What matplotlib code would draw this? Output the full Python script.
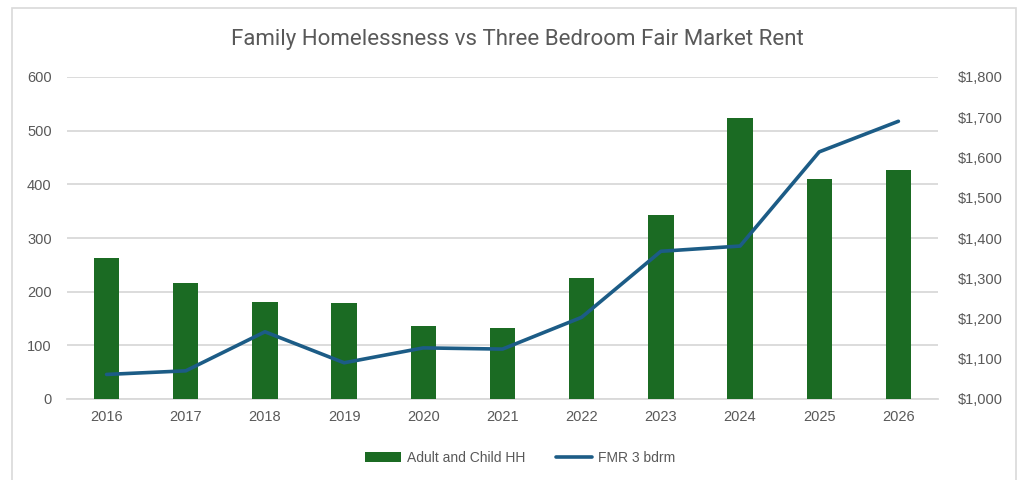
import numpy as np
import matplotlib
matplotlib.use("Agg")
import matplotlib.pyplot as plt
from matplotlib import font_manager
from matplotlib.patches import Rectangle
from matplotlib.ticker import FuncFormatter

# Data
years = ["2016", "2017", "2018", "2019", "2020", "2021",
         "2022", "2023", "2024", "2025", "2026"]
adult_child_hh = [262, 217, 181, 179, 136, 133, 226, 342, 524, 410, 427]
fmr_3bdrm = [1061, 1070, 1167, 1090, 1127, 1124, 1203, 1367, 1380, 1614, 1690]

bar_color = "#1B6B23"
line_color = "#1C5C86"
text_color = "#595959"
grid_color = "#D9D9D9"

installed = {f.name for f in font_manager.fontManager.ttflist}
title_font = "Liberation Sans Narrow" if "Liberation Sans Narrow" in installed else "Roboto"
plt.rcParams["font.family"] = ["Liberation Sans", "DejaVu Sans"]

fig = plt.figure(figsize=(10.24, 4.8), dpi=100)
ax = fig.add_axes([67 / 1024, 1 - 399 / 480, (938 - 67) / 1024, (399 - 77) / 480])
ax2 = ax.twinx()

x = np.arange(len(years))
ax.bar(x, adult_child_hh, width=0.32, color=bar_color, label="Adult and Child HH", zorder=3)
ax2.plot(x, fmr_3bdrm, color=line_color, lw=2.6, solid_capstyle="round",
         solid_joinstyle="round", label="FMR 3 bdrm", zorder=4)

ax.set_xlim(-0.5, len(years) - 0.5)
ax.set_ylim(0, 600)
ax.set_yticks(range(0, 601, 100))
ax2.set_ylim(1000, 1800)
ax2.set_yticks(range(1000, 1801, 100))
ax2.yaxis.set_major_formatter(FuncFormatter(lambda v, p: f"${v:,.0f}"))

ax.set_xticks(x)
ax.set_xticklabels(years)
ax.yaxis.grid(True, color=grid_color, lw=1.3, zorder=0)
ax.set_axisbelow(True)

for a in (ax, ax2):
    for s in a.spines.values():
        s.set_visible(False)
    a.tick_params(length=0, labelsize=10.5, colors=text_color)
ax.spines["bottom"].set_visible(True)
ax.spines["bottom"].set_color(grid_color)
ax.spines["bottom"].set_linewidth(1.3)
ax.tick_params(axis="x", pad=8)
ax.tick_params(axis="y", pad=11)
ax2.tick_params(axis="y", pad=14)

fig.text(517 / 1024, 1 - 40 / 480, "Family Homelessness vs Three Bedroom Fair Market Rent",
         ha="center", va="center", fontsize=16, color=text_color, family=title_font)

h1, l1 = ax.get_legend_handles_labels()
h2, l2 = ax2.get_legend_handles_labels()
fig.legend(h1 + h2, l1 + l2, loc="center", bbox_to_anchor=(520 / 1024, 1 - 458 / 480),
           ncol=2, frameon=False, fontsize=10, labelcolor=text_color,
           handlelength=2.6, handletextpad=0.4, columnspacing=2.2)

fig.patches.append(Rectangle((12 / 1024, -0.02), (1016 - 12) / 1024, 1 - 8 / 480 + 0.02,
                             transform=fig.transFigure, fill=False,
                             edgecolor=grid_color, lw=1.2))

fig.savefig("out.png", dpi=100, facecolor="white")
